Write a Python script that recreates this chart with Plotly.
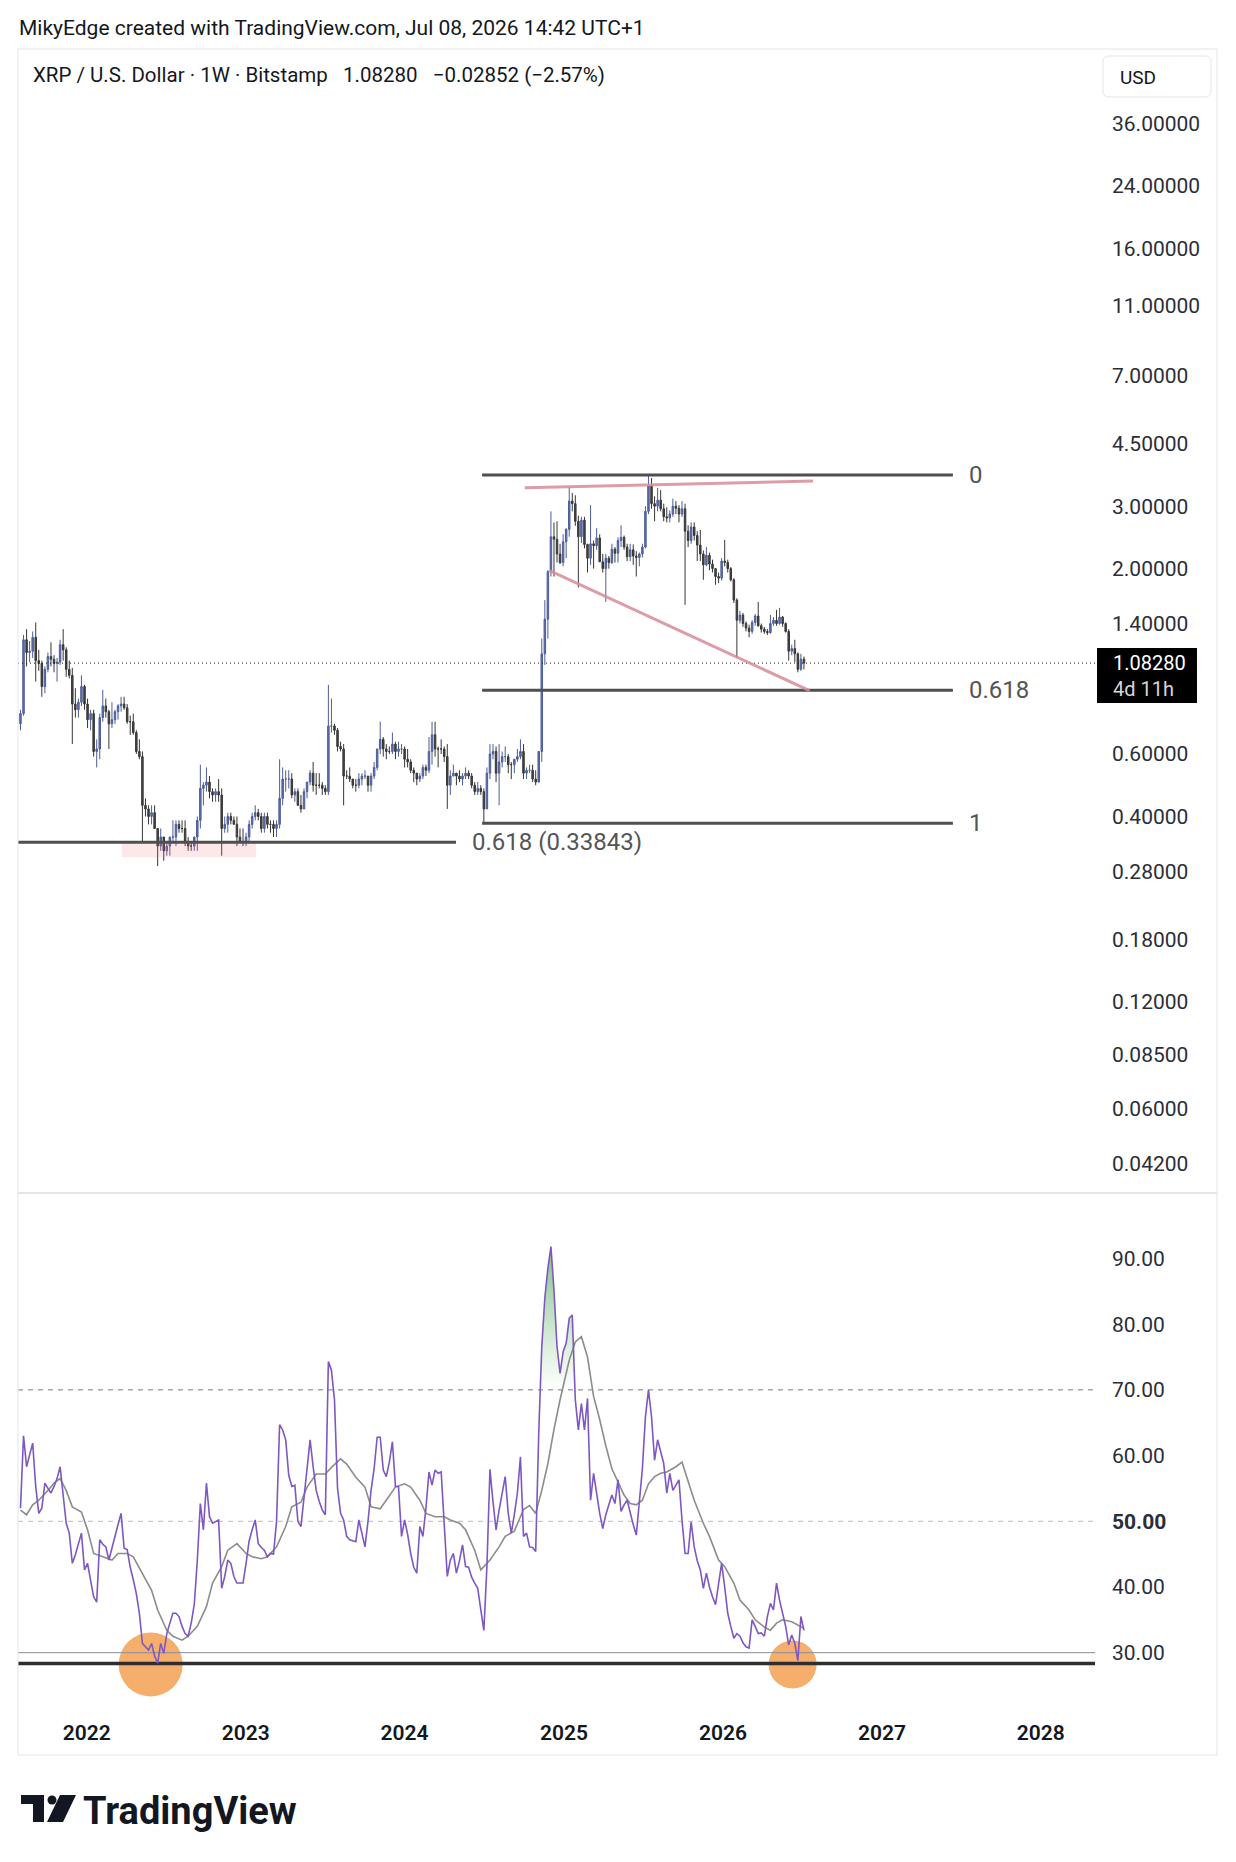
import math
import pandas as pd
import numpy as np
import plotly.graph_objects as go

# ---------------------------------------------------------------- data
FIRST_WEEK = "2021-08-02"
FIRST_OPEN = 0.73

close_2021 = [0.78, 1.26, 1.16, 1.17, 1.28, 1.10, 1.08, 0.93, 1.04, 1.13, 1.11, 1.08, 1.09, 1.22, 1.18, 1.04, 1.00, 0.83, 0.80, 0.84, 0.93, 0.83]
high_2021 = [0.80, 1.30, 1.35, 1.25, 1.33, 1.41, 1.18, 1.10, 1.06, 1.16, 1.24, 1.14, 1.12, 1.26, 1.35, 1.20, 1.10, 1.05, 0.92, 0.86, 1.00, 0.94]
low_2021 = [0.70, 0.77, 1.06, 1.09, 1.12, 0.96, 1.03, 0.87, 0.89, 1.02, 1.06, 1.02, 0.96, 1.07, 1.10, 0.99, 0.98, 0.64, 0.76, 0.76, 0.82, 0.80]

close_2022 = [0.75, 0.78, 0.61, 0.62, 0.76, 0.82, 0.79, 0.73, 0.75, 0.79, 0.82, 0.83, 0.81, 0.74, 0.74, 0.69, 0.61, 0.59, 0.43, 0.42,
              0.40, 0.41, 0.37, 0.33, 0.35, 0.32, 0.33, 0.35, 0.35, 0.38, 0.37, 0.37, 0.34, 0.33, 0.33, 0.35, 0.39, 0.48, 0.49, 0.50,
              0.47, 0.46, 0.47, 0.46, 0.37, 0.38, 0.40, 0.39, 0.38, 0.35, 0.34, 0.34]
high_2022 = [0.86, 0.80, 0.80, 0.66, 0.78, 0.91, 0.86, 0.80, 0.84, 0.80, 0.83, 0.87, 0.87, 0.83, 0.77, 0.78, 0.70, 0.66, 0.61, 0.45,
             0.43, 0.43, 0.43, 0.37, 0.37, 0.35, 0.34, 0.35, 0.39, 0.39, 0.39, 0.39, 0.39, 0.35, 0.34, 0.35, 0.40, 0.56, 0.50, 0.55,
             0.52, 0.48, 0.48, 0.51, 0.48, 0.40, 0.41, 0.41, 0.40, 0.40, 0.37, 0.37]
low_2022 = [0.71, 0.70, 0.59, 0.55, 0.58, 0.74, 0.76, 0.62, 0.71, 0.73, 0.75, 0.79, 0.80, 0.73, 0.68, 0.68, 0.60, 0.58, 0.34, 0.40,
            0.38, 0.38, 0.37, 0.29, 0.32, 0.30, 0.31, 0.31, 0.34, 0.33, 0.36, 0.36, 0.33, 0.32, 0.32, 0.32, 0.32, 0.37, 0.43, 0.47,
            0.45, 0.44, 0.44, 0.44, 0.31, 0.36, 0.36, 0.38, 0.38, 0.33, 0.34, 0.33]

close_2023 = [0.35, 0.38, 0.40, 0.41, 0.40, 0.37, 0.40, 0.38, 0.38, 0.37, 0.38, 0.45, 0.51, 0.51, 0.51, 0.46, 0.47, 0.43, 0.42, 0.47,
              0.50, 0.53, 0.49, 0.49, 0.49, 0.48, 0.47, 0.72, 0.72, 0.70, 0.63, 0.62, 0.52, 0.52, 0.51, 0.49, 0.49, 0.51, 0.52, 0.52,
              0.49, 0.52, 0.55, 0.62, 0.66, 0.62, 0.61, 0.61, 0.64, 0.61, 0.62, 0.62]
high_2023 = [0.36, 0.39, 0.41, 0.43, 0.42, 0.41, 0.41, 0.41, 0.39, 0.39, 0.39, 0.58, 0.55, 0.54, 0.54, 0.53, 0.48, 0.48, 0.46, 0.48,
             0.50, 0.54, 0.57, 0.53, 0.53, 0.50, 0.49, 0.94, 0.86, 0.73, 0.71, 0.65, 0.64, 0.54, 0.55, 0.51, 0.51, 0.53, 0.53, 0.54,
             0.52, 0.53, 0.57, 0.62, 0.74, 0.67, 0.64, 0.63, 0.69, 0.65, 0.65, 0.64]
low_2023 = [0.33, 0.34, 0.37, 0.39, 0.39, 0.36, 0.36, 0.37, 0.36, 0.35, 0.35, 0.37, 0.43, 0.47, 0.48, 0.45, 0.44, 0.43, 0.41, 0.42,
            0.45, 0.49, 0.47, 0.46, 0.48, 0.46, 0.46, 0.46, 0.69, 0.68, 0.61, 0.61, 0.43, 0.51, 0.50, 0.48, 0.47, 0.48, 0.49, 0.51,
            0.47, 0.47, 0.51, 0.54, 0.60, 0.59, 0.58, 0.60, 0.60, 0.58, 0.59, 0.60]

close_2024 = [0.58, 0.57, 0.54, 0.53, 0.51, 0.52, 0.55, 0.54, 0.61, 0.68, 0.62, 0.62, 0.62, 0.59, 0.49, 0.52, 0.53, 0.52, 0.51, 0.52,
              0.53, 0.52, 0.49, 0.47, 0.48, 0.47, 0.42, 0.53, 0.60, 0.61, 0.53, 0.57, 0.59, 0.59, 0.56, 0.56, 0.58, 0.59, 0.61, 0.53,
              0.54, 0.54, 0.51, 0.50, 0.61, 1.15, 1.44, 1.96, 2.46, 2.42, 2.20, 2.08, 2.38]
high_2024 = [0.63, 0.62, 0.58, 0.55, 0.53, 0.53, 0.56, 0.56, 0.67, 0.74, 0.74, 0.63, 0.66, 0.63, 0.64, 0.54, 0.56, 0.53, 0.54, 0.53,
             0.55, 0.54, 0.53, 0.50, 0.50, 0.49, 0.48, 0.55, 0.64, 0.64, 0.63, 0.64, 0.61, 0.63, 0.60, 0.57, 0.58, 0.62, 0.66, 0.64,
             0.55, 0.56, 0.56, 0.54, 0.61, 1.27, 1.63, 1.98, 2.90, 2.70, 2.72, 2.35, 2.50]
low_2024 = [0.55, 0.55, 0.53, 0.50, 0.49, 0.50, 0.51, 0.52, 0.53, 0.56, 0.59, 0.55, 0.60, 0.57, 0.42, 0.46, 0.52, 0.49, 0.50, 0.49,
            0.51, 0.51, 0.48, 0.46, 0.46, 0.46, 0.38, 0.42, 0.51, 0.58, 0.50, 0.43, 0.55, 0.57, 0.53, 0.51, 0.53, 0.57, 0.58, 0.51,
            0.51, 0.53, 0.50, 0.49, 0.50, 0.57, 1.07, 1.27, 1.90, 1.90, 2.08, 2.06, 2.03]

close_2025 = [2.58, 3.10, 3.05, 2.72, 2.46, 2.74, 2.34, 2.14, 2.35, 2.32, 2.44, 2.09, 2.00, 2.14, 2.08, 2.27, 2.21, 2.40, 2.45, 2.30,
              2.16, 2.26, 2.17, 2.15, 2.20, 2.30, 2.90,
              3.42, 3.05, 3.00, 3.12, 2.95, 2.80, 2.78, 2.85, 3.00, 2.96, 2.85, 2.95, 2.55, 2.40, 2.62, 2.48, 2.33, 2.20, 2.05, 2.18,
              2.06, 2.00, 1.90, 1.88, 2.10]
high_2025 = [2.60, 3.40, 3.27, 3.22, 2.82, 2.80, 2.80, 2.35, 3.02, 2.40, 2.60, 2.50, 2.20, 2.20, 2.17, 2.35, 2.30, 2.45, 2.65, 2.48,
             2.35, 2.35, 2.34, 2.24, 2.22, 2.35, 3.00,
             3.66, 3.60, 3.20, 3.38, 3.33, 3.05, 2.98, 2.92, 3.15, 3.10, 3.02, 3.10, 3.05, 2.65, 2.70, 2.70, 2.55, 2.57, 2.25, 2.30,
             2.22, 2.12, 2.00, 1.95, 2.14]
low_2025 = [2.14, 2.46, 2.90, 2.64, 1.77, 2.36, 2.28, 1.95, 2.05, 2.00, 2.26, 2.09, 1.95, 1.61, 2.00, 2.06, 2.08, 2.08, 2.30, 2.26,
            2.10, 2.10, 2.05, 1.90, 2.03, 2.15, 2.28,
            2.85, 2.95, 2.72, 2.90, 2.90, 2.72, 2.70, 2.70, 2.80, 2.85, 2.70, 2.80, 1.58, 2.30, 2.35, 2.40, 2.10, 2.10, 1.86, 2.03,
            1.98, 1.95, 1.80, 1.82, 1.85]

close_2026 = [2.08, 2.00, 1.86, 1.63, 1.43, 1.48, 1.40, 1.36, 1.33, 1.41, 1.47, 1.38, 1.35, 1.33, 1.32, 1.40, 1.43, 1.40, 1.46, 1.40,
              1.33, 1.17, 1.19, 1.15, 1.04, 1.1113, 1.0828]
high_2026 = [2.41, 2.12, 2.02, 1.88, 1.65, 1.52, 1.50, 1.42, 1.39, 1.43, 1.49, 1.61, 1.40, 1.37, 1.35, 1.48, 1.46, 1.53, 1.55, 1.47,
             1.41, 1.35, 1.22, 1.26, 1.16, 1.15, 1.13]
low_2026 = [2.03, 1.95, 1.84, 1.60, 1.12, 1.40, 1.37, 1.33, 1.28, 1.31, 1.38, 1.37, 1.32, 1.31, 1.30, 1.31, 1.38, 1.38, 1.39, 1.37,
            1.32, 1.10, 1.14, 1.09, 1.02, 1.03, 1.04]

rsi_2021 = [52, 63, 58.3, 60, 61.9, 55.3, 51.2, 52, 55.8, 55, 54.3, 55.3, 56.5, 58.3, 54.3, 49.7, 48.2, 43.6, 44.9, 46.5, 48.2, 42.6]
rsi_2022 = [43.6, 41, 38.5, 37.7, 47.2, 46.5, 46.1, 44.1, 46, 47.7, 49.5, 51.2, 45.9, 45.7, 43, 41.1, 39, 36, 31.4, 30.9,
            30.4, 31.4, 29.5, 28.4, 31.4, 29.9, 32.9, 34.5, 36, 36, 35.5, 34, 32.9, 32.5, 34.5, 37.3, 44, 52.7, 48.7, 55.8,
            50.7, 49.7, 50, 50.2, 39.8, 41.6, 44.1, 43.6, 41.6, 40.6, 40.6, 40.6]
rsi_2023 = [43.6, 47, 48.7, 50.2, 46.6, 46, 45.6, 44.6, 45.1, 45, 50, 64.7, 63.9, 62.4, 57, 55.3, 55.5, 50, 49.2, 53.7,
            58, 62.4, 58.3, 54.7, 53, 51.7, 51, 74.3, 73, 68.5, 55, 51.2, 50.2, 47.7, 47.2, 47, 46.9, 50.2, 48.2, 46.1,
            50, 54.7, 58, 62.8, 62.8, 57.8, 56.8, 59, 62.1, 55.3, 55.3, 47.7]
rsi_2024 = [50.2, 48, 45.1, 43, 42.1, 49.2, 47.7, 52, 57.5, 55.5, 57.8, 57.3, 57.5, 50, 41.6, 44.1, 45.1, 42.1, 44, 46.4,
            43.1, 43, 41.5, 40.6, 39.8, 36.5, 33.4, 43.1, 57.9, 53, 48.7, 51.7, 54, 56.8, 51.2, 48.2, 51, 54.3, 59.8, 47.7,
            48.2, 46.1, 46, 45.4, 63.4, 76.6, 84, 88.5, 91.8, 85.2, 76.6, 72.5, 75.8]
rsi_2025 = [77.1, 80.9, 81.4, 68.5, 63.9, 67.9, 63.9, 68.7, 53.2, 57.3, 54, 51.2, 48.9, 51, 52.5, 54, 52.7, 56.3, 51.5, 52.5,
            53.2, 51.2, 49.5, 47.9, 52.7, 58, 65.9, 70, 65.9, 59.3, 62.4, 60.5, 58.8, 54.3, 57.3, 54.7, 55.5, 56.3, 50.2, 45.1,
            45.1, 49.9, 46.1, 44, 42.6, 39.8, 42.1, 40, 38.5, 37.3, 40.5, 43.6]
rsi_2026 = [40, 36, 34, 32.2, 32.9, 32.5, 31.5, 30.9, 30.7, 35, 34, 32.9, 33, 32.5, 35.5, 37.5, 36.5, 40.6, 38, 36,
            34, 31.2, 32.7, 31.4, 28.8, 35.5, 33.4]

# RSI moving average, read at a subset of weeks (week index from FIRST_WEEK)
rsi_ma_week = [0, 2, 4, 6, 9, 11, 13, 15, 17, 20, 22, 24, 27, 30, 32, 35, 37, 40, 43, 45,
               48, 50, 53, 55, 58, 61, 63, 66, 68, 71, 74, 76, 79, 81, 84, 87, 89, 92, 94, 97,
               100, 102, 105, 107, 110, 113, 115, 118, 120, 123, 126, 128, 131, 133, 136, 139, 141, 144, 146, 149,
               151, 154, 157, 159, 162, 165, 167, 169, 171, 173, 175, 177, 180, 182, 184, 186, 188, 190, 192, 194,
               196, 198, 200, 202, 204, 206, 208, 210, 212, 215, 217, 219, 221, 224, 226, 229, 231, 234, 236, 239,
               241, 244, 246, 248, 250, 253, 255, 257]
rsi_ma = [51.7, 51, 52.5, 53.2, 54.7, 55.8, 56.5, 54.7, 52.2, 51.4, 48.7, 45.1, 44.6, 44.1, 45.1, 45.1, 44.6, 42.1, 39.5, 36.5,
          33.4, 32.5, 31.9, 32.5, 34, 37, 40.6, 43.1, 45.6, 46.6, 45.1, 44.6, 44.3, 44.6, 46.1, 49.2, 52.2, 52.9, 55.2, 57.2,
          57.2, 58.2, 59.5, 58.7, 56.7, 55.2, 52.2, 51.9, 53.2, 55.2, 55.7, 55.2, 53.2, 51.2, 50.7, 50.7, 50.2, 49.7, 48.7, 45.6,
          42.6, 44.1, 46.1, 47.7, 48.5, 51.8, 52.4, 51.2, 54.7, 58.8, 64, 68.5, 74.5, 77.3, 78.1, 75, 69, 65.5, 61.5, 58,
          56, 54, 52.7, 52.5, 53.2, 55.7, 56.8, 57.3, 57.5, 58.3, 59, 56, 53.2, 49.7, 47.7, 44.1, 43.1, 40.6, 38, 36.5,
          35, 33.9, 33.4, 34.5, 35, 34.7, 34.2, 33.7]

LAST_PRICE = 1.0828
FIB_LABELS = ["0", "0.618", "1"]
FIB_PRICES = [3.673, 0.908, 0.383]
FIB_START, FIB_END = "2024-06-27", "2027-06-13"
LEFT_FIB_PRICE = 0.33843
LEFT_FIB_START, LEFT_FIB_END = "2021-06-01", "2024-04-28"
ZONE_X = ["2022-03-23", "2023-01-25"]
ZONE_Y = [0.307, 0.338]
TREND_UP_X, TREND_UP_Y = ["2024-10-03", "2026-07-27"], [3.38, 3.53]
TREND_DN_X, TREND_DN_Y = ["2024-11-29", "2026-07-19"], [1.973, 0.905]
RSI_SUPPORT = 28.36
CIRCLE_X = ["2022-05-28", "2026-06-10"]
CIRCLE_Y = [28.2, 28.2]

YEAR_TICKS = ["2022-01-01", "2023-01-01", "2024-01-01", "2025-01-01", "2026-01-01", "2027-01-01", "2028-01-01"]
YEAR_LABELS = ["2022", "2023", "2024", "2025", "2026", "2027", "2028"]
PRICE_TICKS = [36, 24, 16, 11, 7, 4.5, 3, 2, 1.4, 0.6, 0.4, 0.28, 0.18, 0.12, 0.085, 0.06, 0.042]
PRICE_LABELS = ["36.00000", "24.00000", "16.00000", "11.00000", "7.00000", "4.50000", "3.00000", "2.00000", "1.40000",
                "0.60000", "0.40000", "0.28000", "0.18000", "0.12000", "0.08500", "0.06000", "0.04200"]
RSI_TICKS = [30, 40, 50, 60, 70, 80, 90]
RSI_LABELS = ["30.00", "40.00", "<b>50.00</b>", "60.00", "70.00", "80.00", "90.00"]

closes = close_2021 + close_2022 + close_2023 + close_2024 + close_2025 + close_2026
highs = high_2021 + high_2022 + high_2023 + high_2024 + high_2025 + high_2026
lows = low_2021 + low_2022 + low_2023 + low_2024 + low_2025 + low_2026
rsi = rsi_2021 + rsi_2022 + rsi_2023 + rsi_2024 + rsi_2025 + rsi_2026
opens = [FIRST_OPEN] + closes[:-1]
dates = pd.date_range(FIRST_WEEK, periods=len(closes), freq="7D")
ma_dates = dates[rsi_ma_week]

# ---------------------------------------------------------------- layout geometry (pixels)
FW, FH = 1236, 1862
PL, PR, PT, PB = 18, 1095, 49, 1712
SPLIT = 1193
X_LEFT, X_RIGHT = "2021-07-27 07:12", "2028-05-04 07:12"
Y_LOG_RANGE = [-1.4598, 1.7664]
RSI_RANGE = [20.97, 99.97]


def px(x):
    return (x - PL) / (PR - PL)


def py(y):
    return (PB - y) / (PB - PT)


FONT = "Roboto"
TXT = "#131722"
UP_FILL, UP_LINE = "#5f71b3", "#4d5d98"
DN_FILL, DN_LINE = "#474747", "#363636"

fig = go.Figure()

# pink support zone
fig.add_trace(go.Scatter(
    x=[ZONE_X[0], ZONE_X[1], ZONE_X[1], ZONE_X[0], ZONE_X[0]],
    y=[ZONE_Y[0], ZONE_Y[0], ZONE_Y[1], ZONE_Y[1], ZONE_Y[0]],
    fill="toself", fillcolor="rgba(242,110,120,0.17)", line=dict(width=0),
    mode="lines", hoverinfo="skip", xaxis="x", yaxis="y"))

# dotted last-price line
fig.add_trace(go.Scatter(x=[X_LEFT, X_RIGHT], y=[LAST_PRICE, LAST_PRICE], mode="lines",
                         line=dict(color="#131722", width=1, dash="1px,3px"),
                         hoverinfo="skip", xaxis="x", yaxis="y"))

# candles
fig.add_trace(go.Candlestick(
    x=dates, open=opens, high=highs, low=lows, close=closes,
    increasing=dict(line=dict(color=UP_LINE, width=1), fillcolor=UP_FILL),
    decreasing=dict(line=dict(color=DN_LINE, width=1), fillcolor=DN_FILL),
    whiskerwidth=0, hoverinfo="skip", xaxis="x", yaxis="y"))

# fib levels
for lvl in FIB_PRICES:
    fig.add_trace(go.Scatter(x=[FIB_START, FIB_END], y=[lvl, lvl], mode="lines",
                             line=dict(color="#4f4f4f", width=3), hoverinfo="skip", xaxis="x", yaxis="y"))
fig.add_trace(go.Scatter(x=[LEFT_FIB_START, LEFT_FIB_END], y=[LEFT_FIB_PRICE, LEFT_FIB_PRICE], mode="lines",
                         line=dict(color="#4f4f4f", width=3), hoverinfo="skip", xaxis="x", yaxis="y"))

# pink trend lines
for tx, ty in [(TREND_UP_X, TREND_UP_Y), (TREND_DN_X, TREND_DN_Y)]:
    fig.add_trace(go.Scatter(x=tx, y=ty, mode="lines", line=dict(color="rgba(214,140,150,0.85)", width=3),
                             hoverinfo="skip", xaxis="x", yaxis="y"))

# ---------------- RSI pane
fig.add_trace(go.Scatter(x=[X_LEFT, X_RIGHT], y=[70, 70], mode="lines",
                         line=dict(color="#787b86", width=1, dash="5px,5px"), hoverinfo="skip", xaxis="x", yaxis="y2"))
fig.add_trace(go.Scatter(x=[X_LEFT, X_RIGHT], y=[50, 50], mode="lines",
                         line=dict(color="#b8bbc4", width=1, dash="5px,5px"), hoverinfo="skip", xaxis="x", yaxis="y2"))
fig.add_trace(go.Scatter(x=[X_LEFT, X_RIGHT], y=[30, 30], mode="lines",
                         line=dict(color="#8a8d96", width=1), hoverinfo="skip", xaxis="x", yaxis="y2"))
fig.add_trace(go.Scatter(x=[X_LEFT, X_RIGHT], y=[RSI_SUPPORT, RSI_SUPPORT], mode="lines",
                         line=dict(color="#2e2e2e", width=3.5), hoverinfo="skip", xaxis="x", yaxis="y2"))

# overbought gradient fill
fig.add_trace(go.Scatter(x=dates, y=[70] * len(dates), mode="lines", line=dict(width=0),
                         hoverinfo="skip", xaxis="x", yaxis="y2"))
fig.add_trace(go.Scatter(x=dates, y=np.maximum(np.array(rsi), 70), mode="lines", line=dict(width=0),
                         fill="tonexty",
                         fillgradient=dict(type="vertical", start=70, stop=100,
                                           colorscale=[[0, "rgba(76,175,80,0)"], [1, "rgba(46,140,60,0.85)"]]),
                         hoverinfo="skip", xaxis="x", yaxis="y2"))

fig.add_trace(go.Scatter(x=ma_dates, y=rsi_ma, mode="lines", line=dict(color="#8c8c8c", width=1.6),
                         hoverinfo="skip", xaxis="x", yaxis="y2"))
fig.add_trace(go.Scatter(x=dates, y=rsi, mode="lines", line=dict(color="#7e57c2", width=1.6),
                         hoverinfo="skip", xaxis="x", yaxis="y2"))

# ---------------------------------------------------------------- shapes
shapes = []
for cx, cy, r in zip(CIRCLE_X, CIRCLE_Y, [32, 24]):
    shapes.append(dict(type="circle", xref="x", yref="y2", xsizemode="pixel", ysizemode="pixel",
                       xanchor=cx, yanchor=cy, x0=-r, x1=r, y0=-r, y1=r,
                       fillcolor="#f5ae6c", line=dict(width=0), layer="below"))
# outer frame
shapes.append(dict(type="rect", xref="paper", yref="paper", x0=px(18), x1=px(1217), y0=py(1755), y1=py(49),
                   line=dict(color="#e3e5ea", width=1), fillcolor="rgba(0,0,0,0)", layer="above"))
# pane separator
shapes.append(dict(type="line", xref="paper", yref="paper", x0=px(18), x1=px(1217), y0=py(SPLIT), y1=py(SPLIT),
                   line=dict(color="#e3e5ea", width=2)))
# price label box
shapes.append(dict(type="rect", xref="paper", yref="paper", x0=px(1097), x1=px(1197), y0=py(703), y1=py(648),
                   fillcolor="#000000", line=dict(width=0)))


# USD box with rounded corners
def rounded(x0, y0, x1, y1, r):
    X0, X1 = px(x0), px(x1)
    Y0, Y1 = py(y0), py(y1)
    rx = r / (PR - PL)
    ry = r / (PB - PT)
    return (f"M {X0+rx},{Y0} L {X1-rx},{Y0} Q {X1},{Y0} {X1},{Y0-ry} L {X1},{Y1+ry} Q {X1},{Y1} {X1-rx},{Y1} "
            f"L {X0+rx},{Y1} Q {X0},{Y1} {X0},{Y1+ry} L {X0},{Y0-ry} Q {X0},{Y0} {X0+rx},{Y0} Z")


shapes.append(dict(type="path", xref="paper", yref="paper", path=rounded(1103, 56, 1211, 97, 6),
                   line=dict(color="#e3e5ea", width=1), fillcolor="white"))

# TradingView logo glyph
LOGO = "#131722"
shapes.append(dict(type="rect", xref="paper", yref="paper", x0=px(21), x1=px(44), y0=py(1804), y1=py(1795),
                   fillcolor=LOGO, line=dict(width=0)))
shapes.append(dict(type="rect", xref="paper", yref="paper", x0=px(33), x1=px(44), y0=py(1822), y1=py(1795),
                   fillcolor=LOGO, line=dict(width=0)))
shapes.append(dict(type="circle", xref="paper", yref="paper", x0=px(47.5), x1=px(56.5), y0=py(1804.5), y1=py(1795.5),
                   fillcolor=LOGO, line=dict(width=0)))
shapes.append(dict(type="path", xref="paper", yref="paper",
                   path=f"M {px(60)},{py(1795)} L {px(76)},{py(1795)} L {px(63)},{py(1822)} L {px(47)},{py(1822)} Z",
                   fillcolor=LOGO, line=dict(width=0)))

# ---------------------------------------------------------------- annotations
ann = []
ann.append(dict(text="MikyEdge created with TradingView.com, Jul 08, 2026 14:42 UTC+1", xref="paper", yref="paper",
                x=px(17), y=py(28), xanchor="left", yanchor="middle", showarrow=False,
                font=dict(family=FONT, size=21, color=TXT)))
ann.append(dict(text="XRP / U.S. Dollar · 1W · Bitstamp\u00a0\u00a0 1.08280\u00a0\u00a0 −0.02852 (−2.57%)",
                xref="paper", yref="paper", x=px(31), y=py(75), xanchor="left", yanchor="middle", showarrow=False,
                font=dict(family=FONT, size=20.5, color=TXT)))
for lab, lvl in zip(FIB_LABELS, FIB_PRICES):
    ann.append(dict(text=lab, xref="paper", yref="y", x=px(967), y=math.log10(lvl), xanchor="left", yanchor="middle",
                    showarrow=False, font=dict(family=FONT, size=24, color="#555555")))
ann.append(dict(text="0.618 (0.33843)", xref="paper", yref="y", x=px(470), y=math.log10(LEFT_FIB_PRICE),
                xanchor="left", yanchor="middle", showarrow=False, font=dict(family=FONT, size=24, color="#555555")))
ann.append(dict(text="1.08280", xref="paper", yref="paper", x=px(1111), y=py(663), xanchor="left", yanchor="middle",
                showarrow=False, font=dict(family=FONT, size=20, color="white")))
ann.append(dict(text="4d 11h", xref="paper", yref="paper", x=px(1111), y=py(689), xanchor="left", yanchor="middle",
                showarrow=False, font=dict(family=FONT, size=20, color="#d6d6d6")))
ann.append(dict(text="USD", xref="paper", yref="paper", x=px(1118), y=py(77), xanchor="left", yanchor="middle",
                showarrow=False, font=dict(family=FONT, size=19, color=TXT)))
ann.append(dict(text="<b>TradingView</b>", xref="paper", yref="paper", x=px(81), y=py(1811), xanchor="left",
                yanchor="middle", showarrow=False, font=dict(family=FONT, size=38, color=LOGO)))

fig.update_layout(
    width=FW, height=FH,
    margin=dict(l=PL, r=FW - PR, t=PT, b=FH - PB, pad=0),
    paper_bgcolor="white", plot_bgcolor="white",
    showlegend=False, hovermode=False,
    font=dict(family=FONT, color=TXT),
    xaxis=dict(type="date", range=[X_LEFT, X_RIGHT], anchor="y2", showgrid=False, zeroline=False, showline=False,
               tickmode="array", tickvals=YEAR_TICKS, ticktext=YEAR_LABELS, ticks="", ticklabelstandoff=6,
               tickfont=dict(family=FONT, size=21, color=TXT, weight=600),
               rangeslider=dict(visible=False), fixedrange=True),
    yaxis=dict(type="log", domain=[py(SPLIT), 1], range=Y_LOG_RANGE, side="right", anchor="x",
               showgrid=False, zeroline=False, showline=False, ticks="",
               tickmode="array", tickvals=PRICE_TICKS, ticktext=PRICE_LABELS, ticklabelstandoff=16,
               tickfont=dict(family=FONT, size=21, color="#2a2e39")),
    yaxis2=dict(domain=[0, py(SPLIT)], range=RSI_RANGE, side="right", anchor="x",
                showgrid=False, zeroline=False, showline=False, ticks="",
                tickmode="array", tickvals=RSI_TICKS, ticktext=RSI_LABELS, ticklabelstandoff=16,
                tickfont=dict(family=FONT, size=21, color="#2a2e39")),
    shapes=shapes, annotations=ann,
)

fig.write_html("out.html", config={"displayModeBar": False})
